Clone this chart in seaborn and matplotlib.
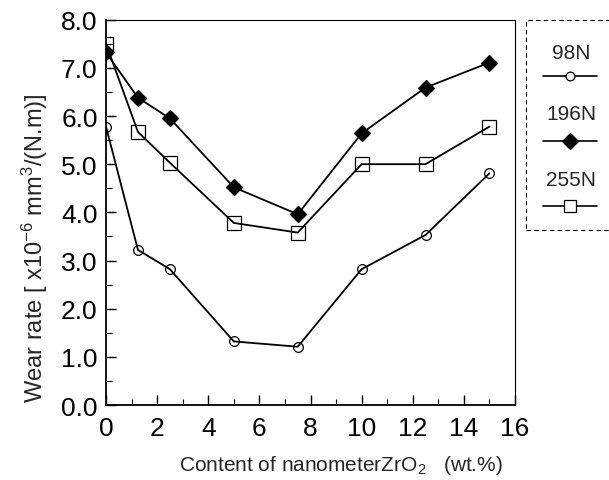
import numpy as np
import pandas as pd
import matplotlib
matplotlib.use("Agg")
import matplotlib.pyplot as plt
from matplotlib.lines import Line2D
from matplotlib.patches import Rectangle
import seaborn as sns

# ---- data ----
content = [0, 1.25, 2.5, 5, 7.5, 10, 12.5, 15]
wear_98N = [5.78, 3.22, 2.82, 1.32, 1.21, 2.82, 3.53, 4.81]
wear_196N = [7.32, 6.38, 5.95, 4.52, 3.96, 5.64, 6.59, 7.11]
wear_255N = [7.50, 5.67, 5.03, 3.78, 3.58, 5.00, 5.00, 5.78]
loads = ["98N", "196N", "255N"]
x_ticks = [0, 2, 4, 6, 8, 10, 12, 14, 16]
y_ticks = [0.0, 1.0, 2.0, 3.0, 4.0, 5.0, 6.0, 7.0, 8.0]

df = pd.DataFrame({
    "content": content * 3,
    "wear": wear_98N + wear_196N + wear_255N,
    "load": [l for l in loads for _ in content],
})

sns.set_theme(style="ticks")
plt.rcParams["font.family"] = ["Liberation Sans", "DejaVu Sans"]
plt.rcParams["mathtext.fontset"] = "custom"
plt.rcParams["mathtext.rm"] = "Liberation Sans"
plt.rcParams["mathtext.it"] = "Liberation Sans"
plt.rcParams["mathtext.default"] = "rm"

fig = plt.figure(figsize=(6.09, 4.81), dpi=100)
ax = fig.add_axes([106 / 609, 1 - 406 / 481, (515 - 106) / 609, (406 - 20.7) / 481])

styles = {
    "98N": dict(marker="o", markersize=7, markerfacecolor="none", markeredgewidth=0.9),
    "196N": dict(marker="D", markersize=8.5, markerfacecolor="black", markeredgewidth=0.9),
    "255N": dict(marker="s", markersize=10, markerfacecolor="none", markeredgewidth=0.9),
}
for load in loads:
    sub = df[df["load"] == load]
    sns.lineplot(data=sub, x="content", y="wear", ax=ax, color="black",
                 linewidth=1.3, markeredgecolor="black", legend=False,
                 **styles[load])

ax.set_xlim(0, 16)
ax.set_ylim(0, 8)
ax.set_xticks(x_ticks)
ax.set_yticks(y_ticks)
ax.set_yticklabels([f"{v:.1f}" for v in y_ticks])
ax.set_xticks(np.arange(0, 17, 1), minor=True)
ax.set_yticks(np.arange(0, 8.01, 0.5), minor=True)
ax.tick_params(axis="both", which="major", direction="in", length=7, width=1,
               labelsize=19, color="black", labelcolor="black")
ax.tick_params(axis="both", which="minor", direction="in", length=4, width=0.8,
               color="black")
ax.tick_params(axis="x", which="major", pad=8)
ax.tick_params(axis="y", which="major", pad=6)
ax.tick_params(top=False, right=False, which="both")
for side in ["left", "bottom"]:
    ax.spines[side].set_linewidth(1.3)
    ax.spines[side].set_color("black")
for side in ["top", "right"]:
    ax.spines[side].set_linewidth(0.8)
    ax.spines[side].set_color("black")

ax.set_xlabel(r"Content of nanometerZrO$_{2}$   (wt.%)", fontsize=15)
ax.set_ylabel(r"Wear rate [ x10$^{-6}$ mm$^{3}$/(N.m)]", fontsize=17)
ax.xaxis.set_label_coords(0.575, -0.125)
ax.yaxis.set_label_coords(-0.137, 0.41)

# ---- custom legend (label above sample line) ----
W, H = 609, 481
rect = Rectangle((526 / W, 1 - 230.7 / H), (620 - 526) / W, (230.7 - 20.7) / H,
                 transform=fig.transFigure, fill=False, edgecolor="black",
                 linestyle=(0, (4, 3)), linewidth=0.8, clip_on=False)
fig.add_artist(rect)
text_y = [53.3, 114.5, 180]
line_y = [76.7, 141.7, 206.7]
for load, ty, ly in zip(loads, text_y, line_y):
    fig.text(571 / W, 1 - ty / H, load, ha="center", va="center", fontsize=15)
    st = styles[load]
    fig.add_artist(Line2D([543 / W, 597 / W], [1 - ly / H, 1 - ly / H],
                          transform=fig.transFigure, color="black", linewidth=1.2))
    fig.add_artist(Line2D([570 / W], [1 - ly / H], transform=fig.transFigure,
                          color="black", linestyle="none", marker=st["marker"],
                          markersize=st["markersize"] * 0.9,
                          markerfacecolor=("white" if st["markerfacecolor"] == "none" else "black"),
                          markeredgecolor="black", markeredgewidth=0.9))

fig.savefig("out.png", dpi=100)
